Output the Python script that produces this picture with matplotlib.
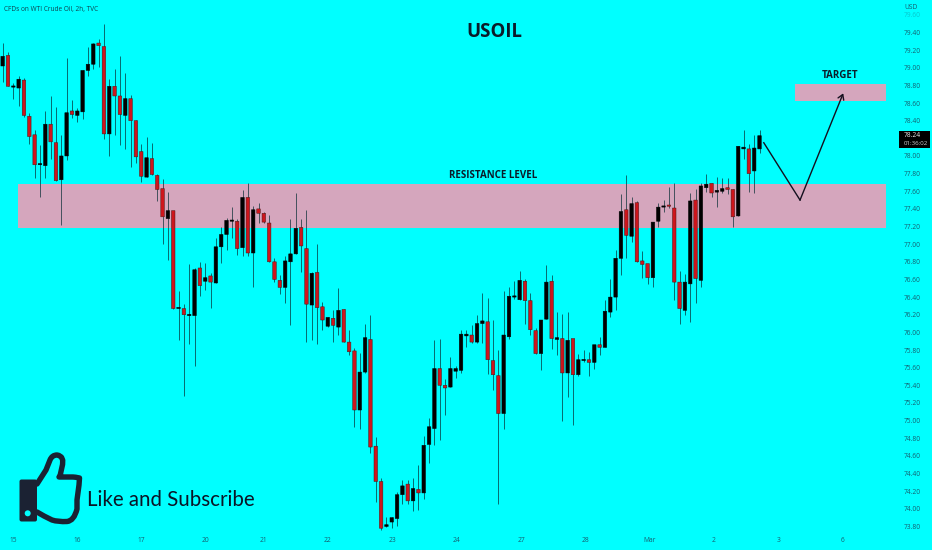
import matplotlib
matplotlib.use("Agg")
import matplotlib.pyplot as plt
import numpy as np
from matplotlib.patches import PathPatch, Rectangle, FancyBboxPatch, Circle
from matplotlib.path import Path

opens = [79.02,79.14,78.78,78.77,78.86,78.45,78.24,77.90,77.89,78.36,
 78.15,77.73,78.00,78.51,78.46,78.50,78.97,79.04,79.28,79.24,
 78.25,78.79,78.68,78.46,78.65,78.40,78.05,77.76,77.97,77.78,
 77.63,77.29,77.38,76.27,76.27,76.19,76.19,76.73,76.58,76.64,
 76.56,76.97,77.11,77.26,77.26,76.96,77.53,76.90,77.40,77.35,
 77.24,76.80,76.59,76.51,76.80,76.89,77.19,76.95,76.31,76.68,
 76.29,76.07,76.16,76.06,76.26,75.89,75.79,75.12,75.55,75.92,
 74.71,74.31,73.80,73.85,73.89,74.16,74.28,74.09,74.22,74.18,
 74.73,74.91,75.59,75.40,75.38,75.56,75.57,75.96,75.97,75.89,
 76.10,76.12,75.68,75.51,75.08,75.95,76.40,76.37,76.58,76.36,
 76.02,75.76,76.15,76.58,75.92,75.93,75.54,75.93,75.52,75.68,
 75.69,75.66,75.86,75.83,76.23,76.40,76.84,77.39,77.09,77.47,
 76.81,76.78,76.62,77.26,77.42,77.44,77.41,76.57,76.25,76.55,
 77.50,76.59,77.64,77.69,77.59,77.60,77.64,77.62,77.32,78.08,
 78.08,77.83,78.08]
closes = [79.13,78.79,78.79,78.87,78.46,78.22,77.90,77.91,78.36,78.16,
 77.72,78.00,78.49,78.47,78.51,78.97,79.04,79.27,79.25,78.25,
 78.79,78.68,78.47,78.65,78.40,77.99,77.77,77.98,77.79,77.62,
 77.31,77.38,76.27,76.28,76.20,76.20,76.71,76.53,76.62,76.57,
 76.97,77.11,77.27,77.27,76.95,77.53,76.90,77.39,77.35,77.25,
 76.80,76.60,76.51,76.81,76.89,77.18,76.98,76.32,76.67,76.28,
 76.14,76.17,76.08,76.25,75.89,75.78,75.12,75.55,75.94,74.70,
 74.31,73.78,73.82,73.90,74.16,74.26,74.09,74.23,74.18,74.72,
 74.93,75.59,75.40,75.37,75.59,75.59,75.98,75.98,75.89,76.10,
 76.13,75.69,75.52,75.08,75.97,76.41,76.41,76.59,76.36,76.03,
 75.76,76.14,76.57,75.93,75.94,75.54,75.91,75.52,75.69,75.69,
 75.66,75.86,75.83,76.24,76.40,76.84,77.37,77.10,77.46,76.80,
 76.77,76.62,77.25,77.42,77.43,77.43,76.57,76.27,76.57,77.49,
 76.61,77.66,77.68,77.58,77.61,77.63,77.62,77.31,78.11,78.10,
 77.80,78.09,78.23]
highs = [79.28,79.18,78.83,78.91,78.88,78.49,78.29,78.12,78.51,78.68,
 78.55,78.24,79.11,78.64,78.54,78.98,79.23,79.28,79.33,79.50,
 78.87,78.99,79.13,78.94,78.69,78.41,78.14,78.21,78.15,77.80,
 77.74,77.59,77.38,76.47,76.32,76.77,76.73,76.80,76.79,76.67,
 77.07,77.19,77.30,77.42,77.29,77.61,77.69,77.43,77.47,77.36,
 77.33,76.84,76.65,76.87,77.29,77.58,77.29,77.39,76.69,77.00,
 76.34,76.18,76.25,76.50,76.26,76.03,75.82,75.77,76.10,76.20,
 74.81,74.35,73.91,73.91,74.19,74.33,74.33,74.35,74.50,74.82,
 75.03,75.91,75.93,75.47,75.72,75.62,76.03,76.03,76.08,76.20,
 76.45,76.39,76.14,75.80,76.47,76.51,76.58,76.70,76.61,76.45,
 76.05,76.14,76.76,76.65,76.23,76.21,76.23,75.93,75.75,75.80,
 75.78,75.86,75.95,76.37,76.61,76.93,77.57,77.78,77.54,77.49,
 76.92,76.78,77.25,77.47,77.50,77.65,77.69,76.70,76.66,77.58,
 77.63,77.69,77.80,77.69,77.76,77.75,77.75,77.62,78.11,78.29,
 78.14,78.24,78.29]
lows = [78.84,78.79,78.65,78.57,78.44,78.14,77.75,77.54,77.75,77.97,
 77.72,77.22,77.95,78.43,78.38,78.42,78.91,78.99,79.01,78.19,
 78.00,78.24,78.12,78.08,77.88,77.92,77.71,77.76,77.78,77.49,
 77.00,76.82,76.27,75.91,75.28,75.87,75.62,76.41,76.48,76.28,
 76.56,76.79,76.93,77.07,76.88,76.87,76.87,76.52,77.24,77.24,
 76.80,76.57,76.43,76.33,76.08,76.89,76.69,75.89,75.91,75.87,
 76.03,76.06,75.89,75.97,75.89,75.74,74.93,74.91,75.54,74.63,
 74.08,73.76,73.79,73.78,73.80,74.06,74.06,73.97,73.99,74.11,
 74.52,74.72,74.78,75.06,75.38,75.48,75.54,75.83,75.88,75.88,
 75.88,75.53,75.35,74.05,74.90,75.93,76.38,76.37,76.09,75.97,
 75.76,75.57,76.15,75.81,75.74,74.99,75.27,74.95,75.50,75.66,
 75.50,75.59,75.74,75.83,76.18,76.25,76.65,76.84,77.03,76.80,
 76.62,76.55,76.51,77.19,77.37,77.41,76.37,76.09,76.20,76.12,
 76.33,76.52,77.59,77.53,77.42,77.58,77.57,77.19,77.32,77.96,
 77.59,77.58,78.03]

x_tick_pos = [2, 14, 26, 38, 49, 61, 73.2, 85.2, 97.4, 109.4, 121.4, 133.4, 145.5, 157.5]
x_tick_lab = ["15","16","17","20","21","22","23","24","27","28","Mar","2","3","6"]
y_ticks = [73.8,74.0,74.2,74.4,74.6,74.8,75.0,75.2,75.4,75.6,75.8,76.0,76.2,76.4,76.6,76.8,
           77.0,77.2,77.4,77.6,77.8,78.0,78.4,78.6,78.8,79.0,79.2,79.4]
resistance_zone = (77.18, 77.68)
target_zone = (78.62, 78.82)
forecast_idx = [142.8, 149.6, 157.7]
forecast_px = [78.15, 77.50, 78.71]

CYAN = "#00FFFF"; PINK = "#D5A6BD"; INK = "#0b1c2a"; TICK = "#155f70"
FONT = "Open Sans"

fig = plt.figure(figsize=(9.32, 5.5), dpi=100, facecolor=CYAN)
ax = fig.add_axes([0, 0, 1, 1], facecolor=CYAN)
ax.set_xlim(-0.5, 174.36)
ax.set_ylim(73.533, 79.768)
for s in ax.spines.values():
    s.set_visible(False)

ax.set_xticks(x_tick_pos, x_tick_lab)
ax.set_yticks(y_ticks, [f"{v:.2f}" for v in y_ticks])
ax.yaxis.tick_right()
ax.tick_params(axis="y", length=0, pad=-20.2, labelsize=4.8, labelcolor=TICK)
ax.tick_params(axis="x", length=0, pad=-9.4, labelsize=4.8, labelcolor=TICK)
for t in ax.get_xticklabels() + ax.get_yticklabels():
    t.set_fontfamily(FONT)

# zones (drawn under the candles)
ax.fill_between([2.9, 165.7], *resistance_zone, color=PINK, lw=0, zorder=1)
ax.fill_between([148.6, 165.7], *target_zone, color=PINK, lw=0, zorder=1)

# candles
o, h, l, c = map(np.array, (opens, highs, lows, closes))
idx = np.arange(len(o))
up = c >= o
ax.vlines(idx, l, h, color="#0a3036", lw=0.5, zorder=2)
bars = ax.bar(idx, np.maximum(np.abs(c - o), 0.014), bottom=np.minimum(o, c), width=0.66,
              color=np.where(up, "#000000", "#CE151C"), edgecolor=np.where(up, "#000000", "#4a1616"),
              linewidth=0.35, zorder=3)
for b in bars:
    b.set_snap(False)

# forecast path
ax.plot(forecast_idx[:2], forecast_px[:2], color="#140f1e", lw=1.0, zorder=4)
ax.annotate("", xy=(forecast_idx[2], forecast_px[2]), xytext=(forecast_idx[1], forecast_px[1]),
            arrowprops=dict(arrowstyle="->,head_length=0.35,head_width=0.22", color="#140f1e", lw=1.0,
                            shrinkA=0, shrinkB=0), zorder=4)

# overlay in pixel space for furniture
ov = fig.add_axes([0, 0, 1, 1], facecolor="none")
ov.set_xlim(0, 932); ov.set_ylim(550, 0); ov.axis("off")

ov.text(494, 32, "USOIL", ha="center", va="center", fontsize=13.4, fontweight="bold", color=INK, family=FONT)
ov.text(493.5, 175.5, "RESISTANCE LEVEL", ha="center", va="center", fontsize=7, fontweight="bold", color=INK, family=FONT)
ov.text(840, 76, "TARGET", ha="center", va="center", fontsize=7, fontweight="bold", color=INK, family=FONT)
ov.text(4, 9, "CFDs on WTI Crude Oil, 2h, TVC", ha="left", va="center", fontsize=4.7, color="#0e4350", family=FONT)
ov.text(904, 7.5, "USD", ha="left", va="center", fontsize=4.8, color=TICK, family=FONT)
ov.text(904, 15.5, "79.60", ha="left", va="center", fontsize=4.8, color=TICK, alpha=0.35, family=FONT)

ov.add_patch(Rectangle((899, 130.5), 31, 17.5, facecolor="#000000", edgecolor="none"))
ov.text(904, 135.3, "78.24", ha="left", va="center", fontsize=4.8, color="#e8e8e8", family=FONT)
ov.text(904, 143.3, "01:36:02", ha="left", va="center", fontsize=4.4, color="#d0d0d0", family=FONT)

ov.text(87, 500, "Like and Subscribe", ha="left", va="center", fontsize=14.8, color="#0b1426", family="Lato")

# thumbs-up icon
DARK = "#1b2233"
ov.add_patch(FancyBboxPatch((19.5, 479.5), 17.5, 42, boxstyle="round,pad=0,rounding_size=2", facecolor=DARK, edgecolor="none"))
ov.add_patch(Circle((27.7, 513.3), 3, facecolor=CYAN, edgecolor="none"))
M, L, C3 = Path.MOVETO, Path.LINETO, Path.CURVE3
verts = [(37, 484), (46, 470), (50, 460), (52, 455), (57, 455), (65, 456), (62, 467), (60, 476), (59, 477),
         (73, 477), (75, 477), (79.5, 478), (79, 485), (77, 500), (77, 509), (74, 521), (67, 521.5),
         (58, 522), (52, 520), (44, 516), (37, 512)]
codes = [M, L, L, C3, C3, C3, C3, L, L, L, C3, C3, L, L, L, C3, C3, C3, C3, L, L]
ov.add_patch(PathPatch(Path(verts, codes), facecolor="none", edgecolor=DARK, lw=3.9, joinstyle="round", capstyle="round"))

fig.savefig("out.png", dpi=100, facecolor=CYAN)
